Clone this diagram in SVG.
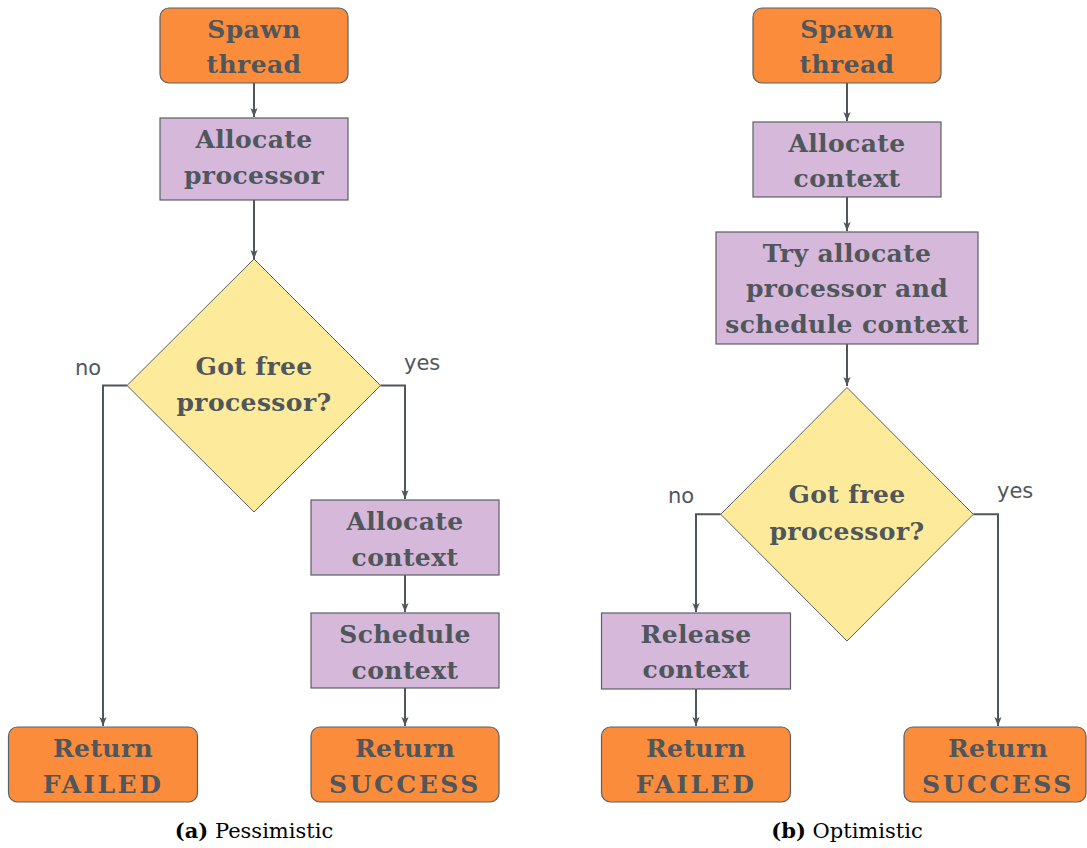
<svg xmlns="http://www.w3.org/2000/svg" width="1087" height="848" viewBox="0 0 1087 848">
<defs>
<marker id="arr" markerUnits="userSpaceOnUse" markerWidth="12" markerHeight="10" viewBox="-10 -5 12 10" refX="0" refY="0" orient="auto">
<path d="M-9,-3.6 L0,0 L-9,3.6 L-6.8,0 Z" fill="#4f575d"/>
</marker>
<style>
.term{fill:#fb8c3b;stroke:#5a6066;stroke-width:1.2}
.proc{fill:#d5b8da;stroke:#5a6066;stroke-width:1.2}
.dec{fill:#feea9b;stroke:#5a6066;stroke-width:1}
.t{font-family:"DejaVu Serif",serif;font-weight:bold;font-size:25px;letter-spacing:0.4px;fill:#4f565c;text-anchor:middle}
.caps{letter-spacing:2.5px}
.lbl{font-family:"DejaVu Sans",sans-serif;font-size:21px;fill:#50575d}
.cap{font-family:"DejaVu Serif",serif;font-size:21px;fill:#000;text-anchor:middle}
.c{fill:none;stroke:#4f575d;stroke-width:2}
</style>
</defs>
<rect width="1087" height="848" fill="#fff"/>

<g id="connectors">
<path class="c" d="M254,83 V117" marker-end="url(#arr)"/>
<path class="c" d="M254,200 V259" marker-end="url(#arr)"/>
<path class="c" d="M127,385.5 H103 V726" marker-end="url(#arr)"/>
<path class="c" d="M380.5,385.5 H405 V499" marker-end="url(#arr)"/>
<path class="c" d="M405,575 V612" marker-end="url(#arr)"/>
<path class="c" d="M405,688 V726" marker-end="url(#arr)"/>
<path class="c" d="M847,83 V121" marker-end="url(#arr)"/>
<path class="c" d="M847,197 V231" marker-end="url(#arr)"/>
<path class="c" d="M847,344 V386" marker-end="url(#arr)"/>
<path class="c" d="M720.7,514.3 H696 V612" marker-end="url(#arr)"/>
<path class="c" d="M973.3,514.3 H998 V726" marker-end="url(#arr)"/>
<path class="c" d="M696,689 V726" marker-end="url(#arr)"/>
<text class="lbl" x="75" y="375">no</text>
<text class="lbl" x="404" y="370">yes</text>
<text class="lbl" x="668" y="503">no</text>
<text class="lbl" x="997" y="498">yes</text>
</g>

<g id="a-spawn"><rect class="term" x="160" y="8" width="188" height="75" rx="9"/><text class="t" x="254" y="38">Spawn</text><text class="t" x="254" y="73">thread</text></g>
<g id="a-allocproc"><rect class="proc" x="160" y="118" width="188" height="82"/><text class="t" x="254" y="148">Allocate</text><text class="t" x="254" y="184">processor</text></g>
<g id="a-decision"><polygon class="dec" points="254,259 380.5,385.5 254,512 127,385.5"/><text class="t" x="254" y="375">Got free</text><text class="t" x="254" y="411">processor?</text></g>
<g id="a-allocctx"><rect class="proc" x="311" y="500" width="188" height="75"/><text class="t" x="405" y="530">Allocate</text><text class="t" x="405" y="566">context</text></g>
<g id="a-sched"><rect class="proc" x="311" y="613" width="188" height="75"/><text class="t" x="405" y="643">Schedule</text><text class="t" x="405" y="679">context</text></g>
<g id="a-failed"><rect class="term" x="8.5" y="727" width="189" height="75" rx="9"/><text class="t" x="103" y="757">Return</text><text class="t caps" x="103" y="793">FAILED</text></g>
<g id="a-success"><rect class="term" x="311" y="727" width="188" height="75" rx="9"/><text class="t" x="405" y="757">Return</text><text class="t caps" x="405" y="793">SUCCESS</text></g>
<text class="cap" x="254" y="838"><tspan font-weight="bold">(a)</tspan> Pessimistic</text>

<g id="b-spawn"><rect class="term" x="753" y="8" width="188" height="75" rx="9"/><text class="t" x="847" y="38">Spawn</text><text class="t" x="847" y="73">thread</text></g>
<g id="b-allocctx"><rect class="proc" x="753" y="122" width="188" height="75"/><text class="t" x="847" y="152">Allocate</text><text class="t" x="847" y="187">context</text></g>
<g id="b-try"><rect class="proc" x="716" y="232" width="262" height="112"/><text class="t" x="847" y="262">Try allocate</text><text class="t" x="847" y="297">processor and</text><text class="t" x="847" y="333">schedule context</text></g>
<g id="b-decision"><polygon class="dec" points="847,387.5 973.3,514.3 847,641 720.7,514.3"/><text class="t" x="847" y="503">Got free</text><text class="t" x="847" y="540">processor?</text></g>
<g id="b-release"><rect class="proc" x="601.5" y="613" width="189" height="76"/><text class="t" x="696" y="643">Release</text><text class="t" x="696" y="678">context</text></g>
<g id="b-failed"><rect class="term" x="601.5" y="727" width="189" height="75" rx="9"/><text class="t" x="696" y="757">Return</text><text class="t caps" x="696" y="793">FAILED</text></g>
<g id="b-success"><rect class="term" x="904" y="727" width="182" height="75" rx="9"/><text class="t" x="998" y="757">Return</text><text class="t caps" x="998" y="793">SUCCESS</text></g>
<text class="cap" x="847" y="838"><tspan font-weight="bold">(b)</tspan> Optimistic</text>
</svg>
